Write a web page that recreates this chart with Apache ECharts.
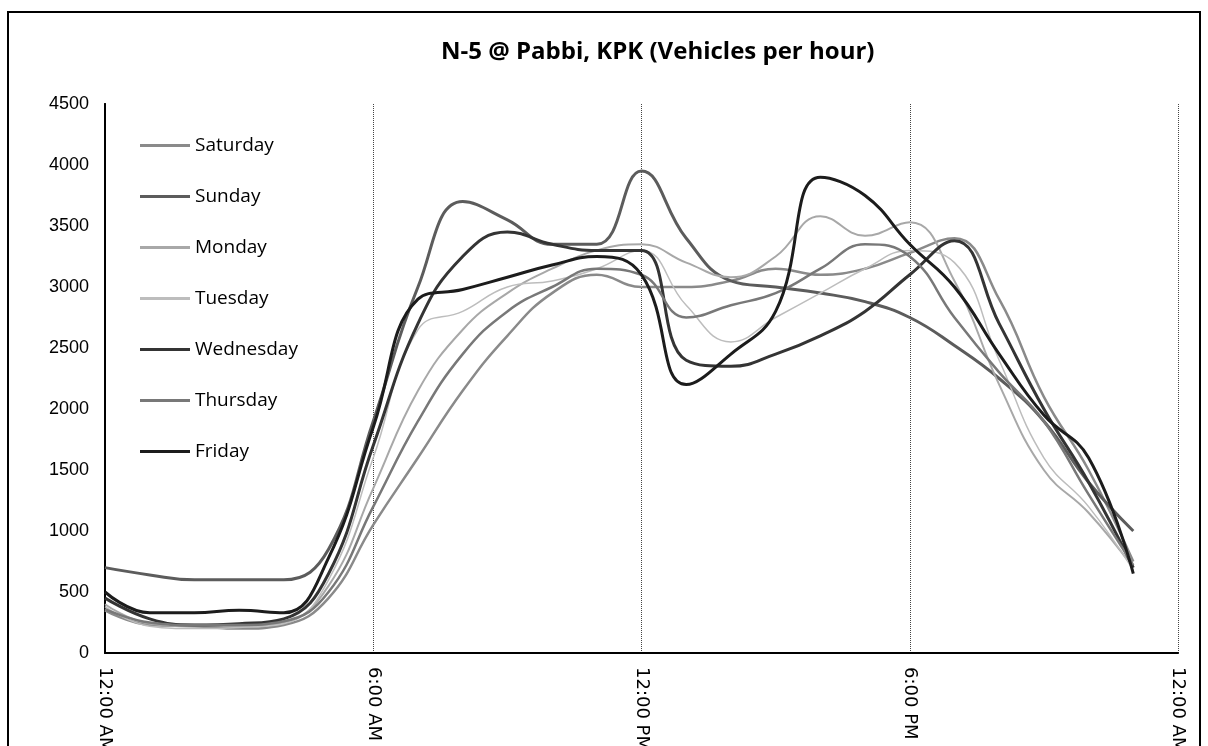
<!DOCTYPE html>
<html>
<head>
<meta charset="utf-8">
<script src="https://cdn.jsdelivr.net/npm/echarts@6/dist/echarts.min.js"></script>
<style>
  html, body { margin: 0; padding: 0; background: #fff; }
  #chart { width: 1208px; height: 746px; }
</style>
</head>
<body>
<div id="chart"></div>
<script>
// hours of the day (0 = 12:00 AM)
var hours = [0,1,2,3,4,5,6,7,8,9,10,11,12,13,14,15,16,17,18,19,20,21,22,23];
var tickLabels = ['12:00 AM', '6:00 AM', '12:00 PM', '6:00 PM', '12:00 AM'];
var days = ['Saturday', 'Sunday', 'Monday', 'Tuesday', 'Wednesday', 'Thursday', 'Friday'];

// vehicles per hour
var saturday  = [350, 230, 220, 200, 230, 450, 1050, 1600, 2150, 2600, 2950, 3100, 3000, 3000, 3050, 3150, 3100, 3150, 3280, 3400, 2900, 2100, 1500, 750];
var sunday    = [700, 640, 600, 600, 600, 850, 1900, 3000, 3700, 3550, 3350, 3350, 3950, 3400, 3050, 3000, 2950, 2880, 2750, 2520, 2250, 1900, 1400, 1000];
var monday    = [400, 240, 220, 220, 250, 550, 1350, 2150, 2650, 2950, 3150, 3300, 3350, 3200, 3080, 3250, 3580, 3420, 3530, 3050, 2200, 1500, 1150, 700];
var tuesday   = [380, 220, 200, 210, 240, 600, 1600, 2650, 2800, 3000, 3050, 3150, 3300, 2850, 2550, 2750, 2950, 3150, 3300, 3200, 2400, 1600, 1200, 680];
var wednesday = [450, 280, 230, 240, 280, 650, 1700, 2700, 3250, 3450, 3350, 3300, 3300, 2400, 2350, 2450, 2600, 2800, 3100, 3380, 2700, 2000, 1400, 700];
var thursday  = [360, 250, 230, 230, 260, 500, 1200, 1900, 2450, 2800, 3000, 3150, 3100, 2750, 2850, 2950, 3150, 3350, 3250, 2750, 2300, 1900, 1300, 720];
var friday    = [500, 330, 330, 350, 330, 780, 1850, 2900, 2980, 3080, 3180, 3250, 3100, 2200, 2450, 2800, 3900, 3750, 3350, 3000, 2450, 1950, 1600, 650];

var values = [saturday, sunday, monday, tuesday, wednesday, thursday, friday];
var colors = ['#8a8a8a', '#5c5c5c', '#a8a8a8', '#bdbdbd', '#343434', '#787878', '#1c1c1c'];
var widths = [2.5, 3, 2, 1.5, 3, 2.5, 3];

var series = days.map(function (d, i) {
    return {
        name: d,
        type: 'line',
        smooth: 0.45,
        symbol: 'none',
        data: hours.map(function (h, k) { return [h, values[i][k]]; }),
        lineStyle: { color: colors[i], width: widths[i] },
        itemStyle: { color: colors[i] }
    };
});

var myChart = echarts.init(document.getElementById('chart'));
var option = {
    backgroundColor: '#fff',
    animation: false,
    title: {
        text: 'N-5 @ Pabbi, KPK (Vehicles per hour)',
        left: 436,
        top: 35,
        textStyle: { fontFamily: 'Open Sans', fontWeight: 'bold', fontSize: 24, color: '#000' }
    },
    legend: {
        data: days,
        orient: 'vertical',
        left: 135,
        top: 130,
        icon: 'rect',
        itemWidth: 50,
        itemHeight: 3,
        itemGap: 30,
        textStyle: { fontFamily: 'Open Sans', fontSize: 19, color: '#000', lineHeight: 21 }
    },
    grid: { left: 105, right: 30, top: 104, bottom: 93, containLabel: false, outerBoundsMode: 'none' },
    xAxis: [{
        type: 'value',
        min: 0, max: 24, interval: 6,
        axisLine: { show: true, lineStyle: { color: '#444', type: 'dotted', width: 1 } },
        axisTick: { show: false },
        splitLine: { show: true, lineStyle: { color: '#444', type: 'dotted', width: 1 } },
        axisLabel: {
            rotate: -90,
            margin: 14,
            fontFamily: 'DejaVu Sans',
            fontSize: 18,
            color: '#000',
            formatter: function (v) { return tickLabels[v / 6]; }
        }
    }, {
        type: 'value',
        position: 'top',
        min: 0, max: 24,
        axisLine: { show: true, lineStyle: { color: '#000', width: 2 } },
        axisTick: { show: false },
        axisLabel: { show: false },
        splitLine: { show: false }
    }],
    yAxis: [{
        type: 'value',
        min: 0, max: 4500, interval: 500,
        axisLine: { show: true, lineStyle: { color: '#000', width: 2 } },
        axisTick: { show: false },
        splitLine: { show: false },
        axisLabel: {
            margin: 16, fontFamily: 'Liberation Sans', fontSize: 18, color: '#000',
            formatter: function (v) { return String(v); }
        }
    }, {
        type: 'value',
        position: 'right',
        min: 0, max: 4500,
        axisLine: { show: true, lineStyle: { color: '#000', width: 2 } },
        axisTick: { show: false },
        axisLabel: { show: false },
        splitLine: { show: false }
    }],
    graphic: [{
        type: 'rect',
        shape: { x: 8, y: 12, width: 1192, height: 740 },
        style: { fill: null, stroke: '#000', lineWidth: 2 }
    }],
    series: series
};
myChart.setOption(option);
</script>
</body>
</html>
